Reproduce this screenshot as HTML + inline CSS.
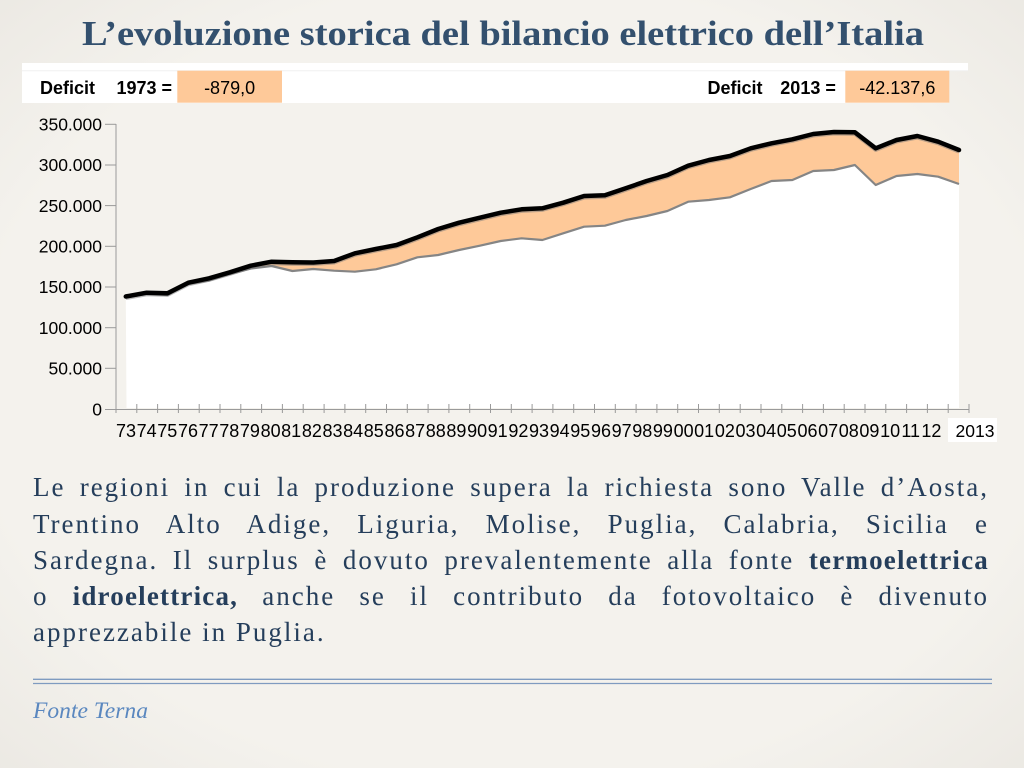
<!DOCTYPE html>
<html>
<head>
<meta charset="utf-8">
<style>
  html,body{margin:0;padding:0;}
  body{width:1024px;height:768px;overflow:hidden;position:relative;
    background:#f2f0eb;
    background-image:radial-gradient(ellipse 80% 80% at 50% 50%, rgba(244,242,237,1) 65%, rgba(232,229,223,1) 100%);
    font-family:"Liberation Serif", serif;}
  svg{position:absolute;left:0;top:0;}
  .ln{position:absolute;left:33px;width:956px;font-family:"Liberation Serif", serif;font-size:27px;line-height:36px;
    color:#253e5b;text-align:justify;text-align-last:justify;white-space:nowrap;letter-spacing:2px;}
  .ln.last{text-align-last:left;}
  .ln b{font-weight:bold;letter-spacing:1.2px;}
</style>
</head>
<body>
<svg width="1024" height="768" viewBox="0 0 1024 768" xmlns="http://www.w3.org/2000/svg">
  <!-- Title -->
  <text x="82" y="45" font-family="Liberation Serif, serif" font-weight="bold" font-size="35" fill="#33506e" textLength="842" lengthAdjust="spacingAndGlyphs">L’evoluzione storica del bilancio elettrico dell’Italia</text>

  <!-- Deficit header -->
  <rect x="22" y="63" width="946" height="8" fill="#ffffff"/>
  <rect x="22" y="70.5" width="927" height="32.5" fill="#ffffff"/>
  <line x1="22" y1="70.7" x2="968" y2="70.7" stroke="#f0f0f0" stroke-width="1"/>
  <rect x="177.3" y="70.7" width="104.7" height="32" fill="#fec999"/>
  <rect x="845.3" y="70.7" width="104" height="32" fill="#fec999"/>
  <g font-family="Liberation Sans, Arial, sans-serif" font-size="18" fill="#000">
    <text x="40" y="94" font-weight="bold">Deficit</text>
    <text x="116.5" y="94" font-weight="bold">1973 =</text>
    <text x="229.6" y="94" text-anchor="middle">-879,0</text>
    <text x="707.5" y="94" font-weight="bold">Deficit</text>
    <text x="780.3" y="94" font-weight="bold">2013 =</text>
    <text x="897.3" y="94" text-anchor="middle">-42.137,6</text>
  </g>

  <!-- Chart fills -->
  <polygon fill="#ffffff" points="125.8,297.3 146.6,294 167.5,295 188.3,284 209.1,280.5 229.9,274 250.8,268.5 271.6,266 292.4,271 313.3,269 334.1,270.7 354.9,271.7 375.8,269.3 396.6,264.3 417.4,257.3 438.2,255 459.1,250 479.9,245.7 500.7,241 521.6,238.3 542.4,240 563.2,233.3 584.1,226.7 604.9,225.7 625.7,220 646.6,216 667.4,211 688.2,201.7 709,200 729.9,197.3 750.7,189 771.5,181 792.4,180 813.2,171 834,170 854.9,165 875.7,185 896.5,176 917.4,174 938.2,176.7 959,184 959,408 126.5,408"/>
  <polygon fill="#fec999" points="125.8,296.5 146.6,292.7 167.5,293.3 188.3,282.7 209.1,278.3 229.9,272.3 250.8,265.7 271.6,261.7 292.4,262.3 313.3,262.5 334.1,261 354.9,253.3 375.8,249 396.6,245 417.4,237.3 438.2,229 459.1,222.7 479.9,217.7 500.7,212.7 521.6,209.3 542.4,208.3 563.2,202.7 584.1,196 604.9,195.3 625.7,188.3 646.6,181 667.4,175 688.2,165.7 709,160 729.9,156 750.7,148.3 771.5,143.3 792.4,139.3 813.2,134 834,132 854.9,132.3 875.7,148.3 896.5,140 917.4,136 938.2,141.7 959,150 959,184 938.2,176.7 917.4,174 896.5,176 875.7,185 854.9,165 834,170 813.2,171 792.4,180 771.5,181 750.7,189 729.9,197.3 709,200 688.2,201.7 667.4,211 646.6,216 625.7,220 604.9,225.7 584.1,226.7 563.2,233.3 542.4,240 521.6,238.3 500.7,241 479.9,245.7 459.1,250 438.2,255 417.4,257.3 396.6,264.3 375.8,269.3 354.9,271.7 334.1,270.7 313.3,269 292.4,271 271.6,266 250.8,268.5 229.9,274 209.1,280.5 188.3,284 167.5,295 146.6,294 125.8,297.3"/>
  <!-- lower line (gray) -->
  <polyline fill="none" stroke="#858585" stroke-width="2.2" stroke-linejoin="round" points="125.8,297.3 146.6,294 167.5,295 188.3,284 209.1,280.5 229.9,274 250.8,268.5 271.6,266 292.4,271 313.3,269 334.1,270.7 354.9,271.7 375.8,269.3 396.6,264.3 417.4,257.3 438.2,255 459.1,250 479.9,245.7 500.7,241 521.6,238.3 542.4,240 563.2,233.3 584.1,226.7 604.9,225.7 625.7,220 646.6,216 667.4,211 688.2,201.7 709,200 729.9,197.3 750.7,189 771.5,181 792.4,180 813.2,171 834,170 854.9,165 875.7,185 896.5,176 917.4,174 938.2,176.7 959,184"/>
  <!-- upper line shadow -->
  <polyline fill="none" stroke="#777" stroke-opacity="0.5" stroke-width="4.5" stroke-linejoin="round" transform="translate(0,1.3)" points="125.8,296.5 146.6,292.7 167.5,293.3 188.3,282.7 209.1,278.3 229.9,272.3 250.8,265.7 271.6,261.7 292.4,262.3 313.3,262.5 334.1,261 354.9,253.3 375.8,249 396.6,245 417.4,237.3 438.2,229 459.1,222.7 479.9,217.7 500.7,212.7 521.6,209.3 542.4,208.3 563.2,202.7 584.1,196 604.9,195.3 625.7,188.3 646.6,181 667.4,175 688.2,165.7 709,160 729.9,156 750.7,148.3 771.5,143.3 792.4,139.3 813.2,134 834,132 854.9,132.3 875.7,148.3 896.5,140 917.4,136 938.2,141.7 959,150"/>
  <!-- upper line (black) -->
  <polyline fill="none" stroke="#000" stroke-width="4.5" stroke-linejoin="round" stroke-linecap="round" points="125.8,296.5 146.6,292.7 167.5,293.3 188.3,282.7 209.1,278.3 229.9,272.3 250.8,265.7 271.6,261.7 292.4,262.3 313.3,262.5 334.1,261 354.9,253.3 375.8,249 396.6,245 417.4,237.3 438.2,229 459.1,222.7 479.9,217.7 500.7,212.7 521.6,209.3 542.4,208.3 563.2,202.7 584.1,196 604.9,195.3 625.7,188.3 646.6,181 667.4,175 688.2,165.7 709,160 729.9,156 750.7,148.3 771.5,143.3 792.4,139.3 813.2,134 834,132 854.9,132.3 875.7,148.3 896.5,140 917.4,136 938.2,141.7 959,150"/>

  <!-- Axes -->
  <g stroke="#9a9a9a" stroke-width="1" fill="none">
    <line x1="116" y1="124" x2="116" y2="409.5"/>
    <line x1="116" y1="409.5" x2="969" y2="409.5"/>
    <line x1="105" y1="409.5" x2="116" y2="409.5"/>
    <line x1="105" y1="368.3" x2="116" y2="368.3"/>
    <line x1="105" y1="327.7" x2="116" y2="327.7"/>
    <line x1="105" y1="287" x2="116" y2="287"/>
    <line x1="105" y1="246.3" x2="116" y2="246.3"/>
    <line x1="105" y1="205.6" x2="116" y2="205.6"/>
    <line x1="105" y1="165" x2="116" y2="165"/>
    <line x1="105" y1="124.3" x2="116" y2="124.3"/>
    <path d="M116.0,404v9 M136.8,404v9 M157.6,404v9 M178.4,404v9 M199.2,404v9 M220.0,404v9 M240.8,404v9 M261.6,404v9 M282.4,404v9 M303.2,404v9 M324.1,404v9 M344.9,404v9 M365.7,404v9 M386.5,404v9 M407.3,404v9 M428.1,404v9 M448.9,404v9 M469.7,404v9 M490.5,404v9 M511.3,404v9 M532.1,404v9 M552.9,404v9 M573.7,404v9 M594.5,404v9 M615.3,404v9 M636.1,404v9 M656.9,404v9 M677.7,404v9 M698.5,404v9 M719.3,404v9 M740.2,404v9 M761.0,404v9 M781.8,404v9 M802.6,404v9 M823.4,404v9 M844.2,404v9 M865.0,404v9 M885.8,404v9 M906.6,404v9 M927.4,404v9 M948.2,404v9 M969.0,404v9"/>
  </g>

  <!-- Y labels -->
  <g font-family="Liberation Sans, Arial, sans-serif" font-size="17.5" fill="#000" text-anchor="end">
    <text x="102" y="130.5">350.000</text>
    <text x="102" y="171.2">300.000</text>
    <text x="102" y="211.8">250.000</text>
    <text x="102" y="252.5">200.000</text>
    <text x="102" y="293.2">150.000</text>
    <text x="102" y="333.9">100.000</text>
    <text x="102" y="374.5">50.000</text>
    <text x="102" y="415.5">0</text>
  </g>

  <!-- X labels -->
  <g font-family="Liberation Sans, Arial, sans-serif" font-size="18" fill="#000" text-anchor="middle">
    <text x="126.0" y="437">73</text>
    <text x="146.7" y="437">74</text>
    <text x="167.3" y="437">75</text>
    <text x="188.0" y="437">76</text>
    <text x="208.6" y="437">77</text>
    <text x="229.3" y="437">78</text>
    <text x="249.9" y="437">79</text>
    <text x="270.6" y="437">80</text>
    <text x="291.2" y="437">81</text>
    <text x="311.9" y="437">82</text>
    <text x="332.5" y="437">83</text>
    <text x="353.2" y="437">84</text>
    <text x="373.8" y="437">85</text>
    <text x="394.5" y="437">86</text>
    <text x="415.1" y="437">87</text>
    <text x="435.8" y="437">88</text>
    <text x="456.4" y="437">89</text>
    <text x="477.1" y="437">90</text>
    <text x="497.7" y="437">91</text>
    <text x="518.4" y="437">92</text>
    <text x="539.0" y="437">93</text>
    <text x="559.7" y="437">94</text>
    <text x="580.3" y="437">95</text>
    <text x="601.0" y="437">96</text>
    <text x="621.6" y="437">97</text>
    <text x="642.3" y="437">98</text>
    <text x="662.9" y="437">99</text>
    <text x="683.6" y="437">00</text>
    <text x="704.2" y="437">01</text>
    <text x="724.9" y="437">02</text>
    <text x="745.5" y="437">03</text>
    <text x="766.2" y="437">04</text>
    <text x="786.8" y="437">05</text>
    <text x="807.5" y="437">06</text>
    <text x="828.1" y="437">07</text>
    <text x="848.8" y="437">08</text>
    <text x="869.4" y="437">09</text>
    <text x="890.1" y="437">10</text>
    <text x="910.7" y="437">11</text>
    <text x="931.4" y="437">12</text>
  </g>
  <rect x="948" y="418" width="49" height="24" fill="#ffffff"/>
  <text x="975" y="437" font-family="Liberation Sans, Arial, sans-serif" font-size="17.5" fill="#000" text-anchor="middle">2013</text>

  <!-- Footer -->
  <line x1="33" y1="679.3" x2="992" y2="679.3" stroke="#7f9bc0" stroke-width="1.3"/>
  <line x1="33" y1="683.5" x2="992" y2="683.5" stroke="#7f9bc0" stroke-width="1.3"/>
  <text x="33" y="718" font-family="Liberation Serif, serif" font-style="italic" font-size="23" fill="#5a87bf" textLength="115" lengthAdjust="spacingAndGlyphs">Fonte Terna</text>
</svg>

<div class="ln" style="top:469px;">Le regioni in cui la produzione supera la richiesta sono Valle d’Aosta,</div>
<div class="ln" style="top:505.5px;">Trentino Alto Adige, Liguria, Molise, Puglia, Calabria, Sicilia e</div>
<div class="ln" style="top:541.5px;">Sardegna. Il surplus è dovuto prevalentemente alla fonte <b>termoelettrica</b></div>
<div class="ln" style="top:578px;">o <b>idroelettrica,</b> anche se il contributo da fotovoltaico è divenuto</div>
<div class="ln last" style="top:614px;">apprezzabile in Puglia.</div>
</body>
</html>
